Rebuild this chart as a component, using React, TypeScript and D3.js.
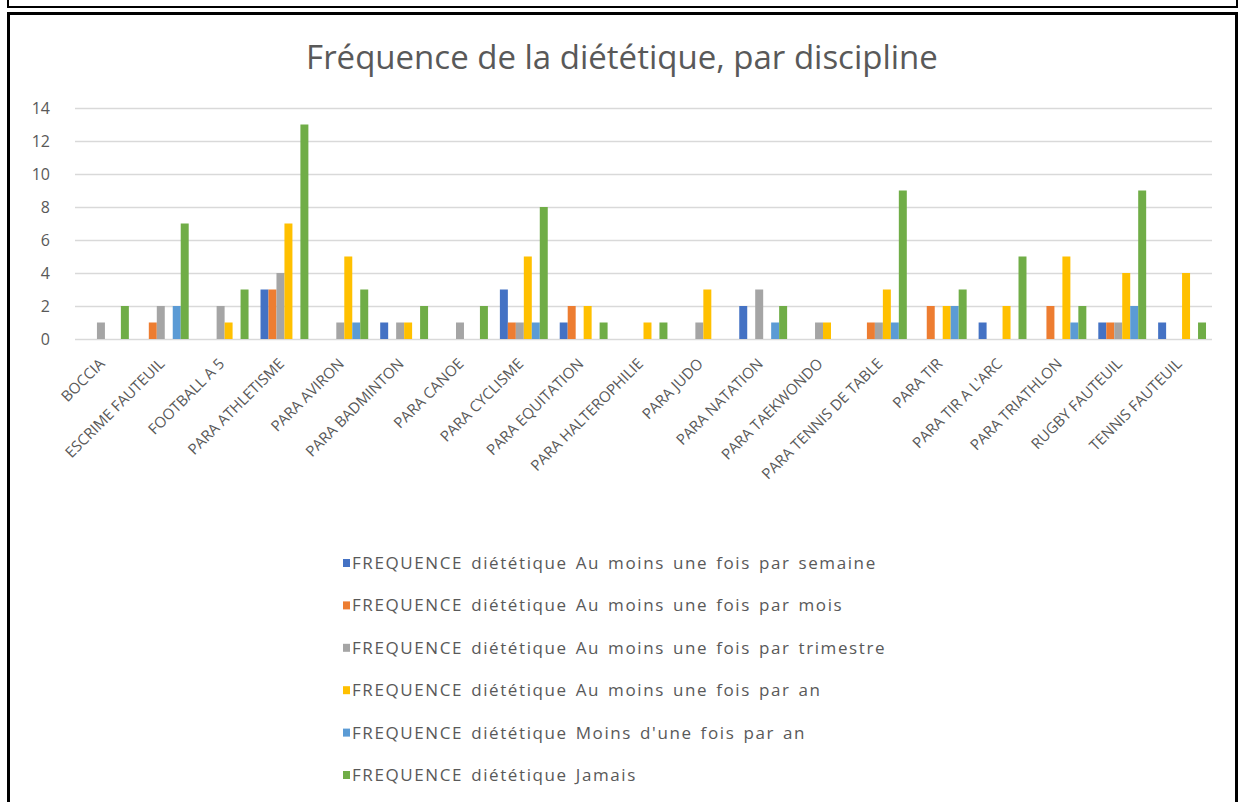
import React, { useEffect, useRef } from 'react';
import * as d3 from 'd3';

// Disciplines (x axis)
const categories = [
  'BOCCIA', 'ESCRIME FAUTEUIL', 'FOOTBALL A 5', 'PARA ATHLETISME', 'PARA AVIRON',
  'PARA BADMINTON', 'PARA CANOE', 'PARA CYCLISME', 'PARA EQUITATION', 'PARA HALTEROPHILIE',
  'PARA JUDO', 'PARA NATATION', 'PARA TAEKWONDO', 'PARA TENNIS DE TABLE', 'PARA TIR',
  "PARA TIR A L'ARC", 'PARA TRIATHLON', 'RUGBY FAUTEUIL', 'TENNIS FAUTEUIL',
];

const seriesNames = [
  'FREQUENCE diététique Au moins une fois par semaine',
  'FREQUENCE diététique Au moins une fois par mois',
  'FREQUENCE diététique Au moins une fois par trimestre',
  'FREQUENCE diététique Au moins une fois par an',
  "FREQUENCE diététique Moins d'une fois par an",
  'FREQUENCE diététique Jamais',
];

// one value per discipline, same order as categories
const semaine = [0, 0, 0, 3, 0, 1, 0, 3, 1, 0, 0, 2, 0, 0, 0, 1, 0, 1, 1];
const mois = [0, 1, 0, 3, 0, 0, 0, 1, 2, 0, 0, 0, 0, 1, 2, 0, 2, 1, 0];
const trimestre = [1, 2, 2, 4, 1, 1, 1, 1, 0, 0, 1, 3, 1, 1, 0, 0, 0, 1, 0];
const parAn = [0, 0, 1, 7, 5, 1, 0, 5, 2, 1, 3, 0, 1, 3, 2, 2, 5, 4, 4];
const moinsAn = [0, 2, 0, 0, 1, 0, 0, 1, 0, 0, 0, 1, 0, 1, 2, 0, 1, 2, 0];
const jamais = [2, 7, 3, 13, 3, 2, 2, 8, 1, 1, 0, 2, 0, 9, 3, 5, 2, 9, 1];

const yTicks = [0, 2, 4, 6, 8, 10, 12, 14];

const seriesValues = [semaine, mois, trimestre, parAn, moinsAn, jamais];
const colors = ['#4472C4', '#ED7D31', '#A5A5A5', '#FFC000', '#5B9BD5', '#70AD47'];

const FONT = "'Open Sans', 'Noto Sans', sans-serif";

function drawChart(el: SVGSVGElement) {
  const svg = d3.select(el);
  svg.selectAll('*').remove();

  const width = 1240;
  const height = 802;

  // frames (screenshot of a document page)
  svg.append('rect').attr('width', width).attr('height', height).attr('fill', '#fff');
  svg.append('rect')
    .attr('x', 8).attr('y', -10).attr('width', 1229).attr('height', 17)
    .attr('fill', 'none').attr('stroke', '#000').attr('stroke-width', 2);
  svg.append('rect')
    .attr('x', 8.5).attr('y', 13.5).attr('width', 1228).attr('height', 800)
    .attr('fill', 'none').attr('stroke', '#000').attr('stroke-width', 3);

  // title
  svg.append('text')
    .attr('x', 622).attr('y', 69)
    .attr('text-anchor', 'middle')
    .style('font-family', FONT)
    .style('font-size', '33px')
    .style('fill', '#595959')
    .text('Fréquence de la diététique, par discipline');

  const plot = { left: 75, right: 1212, top: 108, bottom: 339 };

  const x0 = d3.scaleBand<string>()
    .domain(categories)
    .range([plot.left, plot.right])
    .paddingInner(0.2)
    .paddingOuter(0.1);

  const x1 = d3.scaleBand<number>()
    .domain(d3.range(seriesNames.length))
    .range([0, x0.bandwidth()]);

  const y = d3.scaleLinear().domain([0, 14]).range([plot.bottom, plot.top]);

  // gridlines
  svg.append('g')
    .selectAll('line')
    .data(yTicks)
    .enter()
    .append('line')
    .attr('x1', plot.left).attr('x2', plot.right)
    .attr('y1', d => Math.round(y(d)) + 0.5).attr('y2', d => Math.round(y(d)) + 0.5)
    .attr('stroke', '#d9d9d9')
    .attr('stroke-width', 1.5);

  // y axis labels
  svg.append('g')
    .selectAll('text')
    .data(yTicks)
    .enter()
    .append('text')
    .attr('x', 50)
    .attr('y', d => y(d))
    .attr('dy', '0.35em')
    .attr('text-anchor', 'end')
    .style('font-family', FONT)
    .style('font-size', '16px')
    .style('fill', '#595959')
    .text(d => d);

  // bars
  const groups = svg.append('g')
    .selectAll('g')
    .data(categories)
    .enter()
    .append('g')
    .attr('transform', d => `translate(${x0(d)},0)`);

  groups.selectAll('rect')
    .data((_, i) => seriesValues.map((vals, s) => ({ s, v: vals[i] })))
    .enter()
    .filter(d => d.v > 0)
    .append('rect')
    .attr('x', d => x1(d.s) as number)
    .attr('width', x1.bandwidth())
    .attr('y', d => y(d.v))
    .attr('height', d => y(0) - y(d.v))
    .attr('fill', d => colors[d.s]);

  // x axis labels, rotated
  svg.append('g')
    .selectAll('text')
    .data(categories)
    .enter()
    .append('text')
    .attr('transform', d => `translate(${(x0(d) as number) + x0.bandwidth() / 2 - 3},${plot.bottom + 22}) rotate(-45)`)
    .attr('text-anchor', 'end')
    .attr('dy', '0.35em')
    .style('font-family', FONT)
    .style('font-size', '15px')
    .style('fill', '#595959')
    .text(d => d);

  // legend
  const legend = svg.append('g')
    .selectAll('g')
    .data(seriesNames)
    .enter()
    .append('g')
    .attr('transform', (_, i) => `translate(343,${563 + i * 42.4})`);

  legend.append('rect')
    .attr('x', 0).attr('y', -4)
    .attr('width', 7).attr('height', 8)
    .attr('fill', (_, i) => colors[i]);

  legend.append('text')
    .attr('x', 9)
    .attr('dy', '0.35em')
    .style('font-family', FONT)
    .style('font-size', '17px')
    .style('letter-spacing', '1.6px')
    .style('word-spacing', '2px')
    .style('fill', '#595959')
    .text(d => d);
}

export default function App() {
  const ref = useRef<SVGSVGElement>(null);

  useEffect(() => {
    if (ref.current) drawChart(ref.current);
  }, []);

  return (
    <svg
      ref={ref}
      width={1240}
      height={802}
      style={{ position: 'absolute', left: 0, top: 0, display: 'block' }}
    />
  );
}
